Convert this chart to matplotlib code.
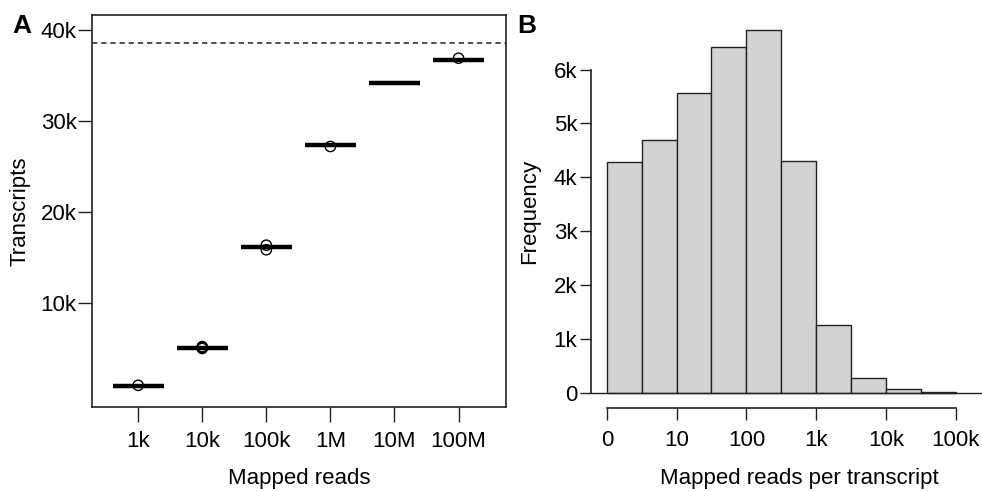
import numpy as np
import matplotlib
matplotlib.use("Agg")
import matplotlib.pyplot as plt

plt.rcParams['font.family'] = ['Liberation Sans', 'DejaVu Sans']

# ---------------- data ----------------
# Panel A: transcripts detected vs mapped reads
depth_labels = ["1k", "10k", "100k", "1M", "10M", "100M"]
medians = [900, 5100, 16150, 27400, 34150, 36750]
outlier_pos = [1, 2, 2, 2, 3, 3, 4, 6]
outlier_vals = [950, 5000, 5200, 5100, 16350, 15850, 27200, 36900]
total_transcripts = 38600
y_ticks_a = [10000, 20000, 30000, 40000]
y_ticklabels_a = ["10k", "20k", "30k", "40k"]

# Panel B: histogram of log10 mapped reads per transcript
bin_edges = [0, 0.5, 1.0, 1.5, 2.0, 2.5, 3.0, 3.5, 4.0, 4.5, 5.0]
counts = [4275, 4700, 5565, 6420, 6740, 4310, 1258, 280, 75, 12]
x_ticks_b = [0, 1, 2, 3, 4, 5]
x_ticklabels_b = ["0", "10", "100", "1k", "10k", "100k"]
y_ticks_b = [0, 1000, 2000, 3000, 4000, 5000, 6000]
y_ticklabels_b = ["0", "1k", "2k", "3k", "4k", "5k", "6k"]

W, H = 982, 491
fig = plt.figure(figsize=(W / 100, H / 100), dpi=100)

def px_axes(left, top, right, bottom):
    return fig.add_axes([left / W, 1 - bottom / H, (right - left) / W, (bottom - top) / H])

TICK_FS = 16
LABEL_FS = 16

# ---------------- Panel A ----------------
axA = px_axes(92, 15, 506, 406.7)
pos = np.arange(1, len(depth_labels) + 1)
axA.hlines(medians, pos - 0.4, pos + 0.4, colors="black", linewidth=3.2, capstyle="butt")
axA.scatter(outlier_pos, outlier_vals, s=55, facecolors="none", edgecolors="black", linewidths=1.0, zorder=3)
axA.axhline(total_transcripts, color="#222222", linestyle=(0, (3.5, 2.5)), linewidth=1.1)
axA.set_xlim(0.28, 6.74)
axA.set_ylim(-1400, 41650)
axA.set_xticks(pos)
axA.set_xticklabels(depth_labels)
axA.set_yticks(y_ticks_a)
axA.set_yticklabels(y_ticklabels_a)
for s in axA.spines.values():
    s.set_linewidth(1.2)
    s.set_color("#222222")
axA.tick_params(axis="x", length=10.5, width=1.0, pad=7, labelsize=TICK_FS, color="#222222")
axA.tick_params(axis="y", length=10, width=1.0, pad=1, labelsize=TICK_FS, color="#222222")

# ---------------- Panel B ----------------
axB = px_axes(591, 15, 982, 408.3)
edges = np.array(bin_edges)
axB.bar(edges[:-1], counts, width=np.diff(edges), align="edge",
        color="#D3D3D3", edgecolor="#222222", linewidth=1.0)
axB.axhline(0, color="#222222", linewidth=1.0)
axB.set_xlim(-0.227, 5.377)
axB.set_ylim(-290, 7012)
axB.set_xticks(x_ticks_b)
axB.set_xticklabels(x_ticklabels_b)
axB.set_yticks(y_ticks_b)
axB.set_yticklabels(y_ticklabels_b)
for side in ["top", "right"]:
    axB.spines[side].set_visible(False)
axB.spines["left"].set_bounds(0, 6000)
axB.spines["bottom"].set_bounds(0, 5)
for side in ["left", "bottom"]:
    axB.spines[side].set_linewidth(1.2)
    axB.spines[side].set_color("#222222")
axB.tick_params(axis="x", length=8.5, width=1.0, pad=7, labelsize=TICK_FS, color="#222222")
axB.tick_params(axis="y", length=8, width=1.0, pad=2, labelsize=TICK_FS, color="#222222")

# ---------------- labels ----------------
def ftext(x, y, s, **kw):
    fig.text(x / W, 1 - y / H, s, **kw)

ftext(20, 211, "Transcripts", rotation=90, ha="center", va="center", fontsize=LABEL_FS)
ftext(299, 484, "Mapped reads", ha="center", va="baseline", fontsize=LABEL_FS)
ftext(530, 211, "Frequency", rotation=90, ha="center", va="center", fontsize=LABEL_FS)
ftext(799, 484, "Mapped reads per transcript", ha="center", va="baseline", fontsize=LABEL_FS)
ftext(12, 33, "A", ha="left", va="baseline", fontsize=19, fontweight="bold")
ftext(517, 33, "B", ha="left", va="baseline", fontsize=19, fontweight="bold")

fig.savefig("out.png", dpi=100)
